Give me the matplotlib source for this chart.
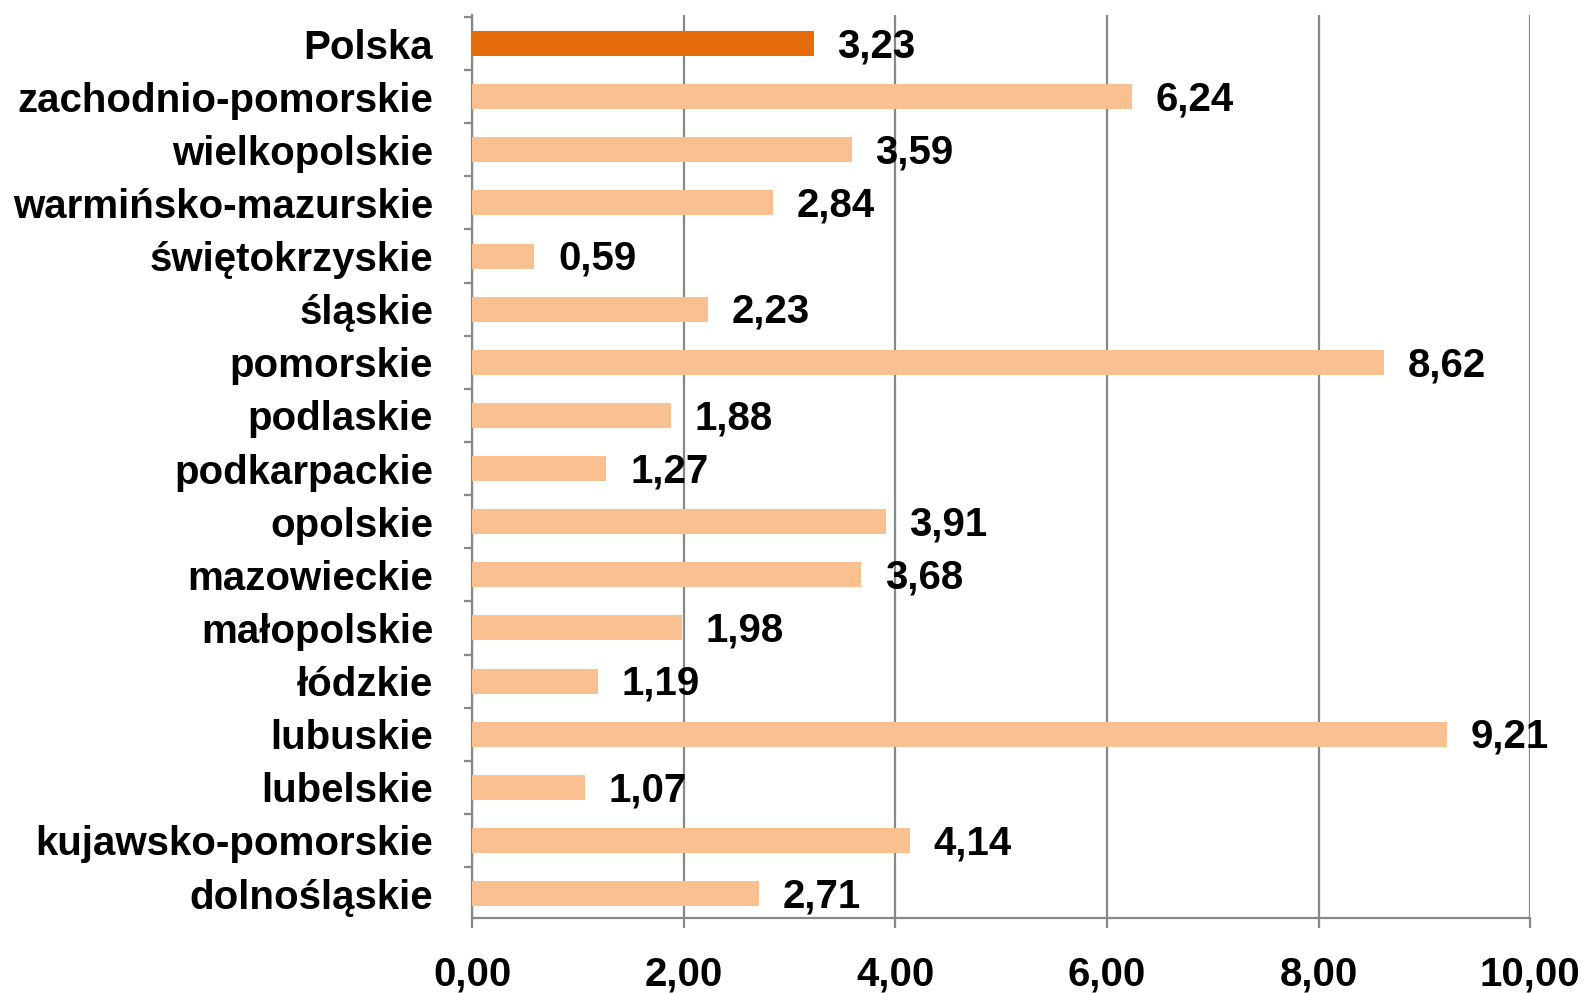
import matplotlib
matplotlib.use("Agg")
import matplotlib.pyplot as plt
from matplotlib.ticker import FixedLocator

# dane (od dołu do góry)
regions = ["dolnośląskie", "kujawsko-pomorskie", "lubelskie", "lubuskie", "łódzkie",
           "małopolskie", "mazowieckie", "opolskie", "podkarpackie", "podlaskie",
           "pomorskie", "śląskie", "świętokrzyskie", "warmińsko-mazurskie",
           "wielkopolskie", "zachodnio-pomorskie", "Polska"]
values = [2.71, 4.14, 1.07, 9.21, 1.19, 1.98, 3.68, 3.91, 1.27, 1.88,
          8.62, 2.23, 0.59, 2.84, 3.59, 6.24, 3.23]
x_ticks = [0, 2, 4, 6, 8, 10]

LIGHT = "#FAC090"
DARK = "#E46C0A"
GRID = "#888888"
FS = 29

plt.rcParams['font.family'] = ['Liberation Sans', 'DejaVu Sans']
plt.rcParams['font.weight'] = 'bold'

fig = plt.figure(figsize=(15.84, 9.93), dpi=100)
ax = fig.add_axes([0.298, 0.0755, 0.668, 0.909])

colors = [DARK if r == "Polska" else LIGHT for r in regions]
ypos = list(range(len(regions)))
ax.barh(ypos, values, height=0.47, color=colors, zorder=3)

for y, v in zip(ypos, values):
    ax.annotate("{:.2f}".format(v).replace(".", ","), xy=(v, y), xytext=(17, -2),
                textcoords="offset points", ha="left", va="center",
                fontsize=FS, fontweight="bold", zorder=4)

ax.set_xlim(0, 10)
ax.set_ylim(-0.46, len(regions) - 0.47)
ax.set_xticks(x_ticks)
ax.set_xticklabels(["{:.2f}".format(t).replace(".", ",") for t in x_ticks],
                   fontsize=FS, fontweight="bold")
ax.set_yticks(ypos)
ax.set_yticklabels(regions, fontsize=FS, fontweight="bold")
ax.yaxis.set_minor_locator(FixedLocator([k + 0.5 for k in range(-1, len(regions))]))

ax.tick_params(axis="y", which="major", length=0, pad=28)
ax.tick_params(axis="y", which="minor", length=6, width=1.6, color=GRID, direction="out")
ax.tick_params(axis="x", which="major", length=7, width=1.6, color=GRID, pad=20)

ax.grid(axis="x", color=GRID, linewidth=1.6, zorder=0)
for side in ["top", "right"]:
    ax.spines[side].set_visible(False)
for side in ["left", "bottom"]:
    ax.spines[side].set_color(GRID)
    ax.spines[side].set_linewidth(1.6)

fig.savefig("out.png", dpi=100)
